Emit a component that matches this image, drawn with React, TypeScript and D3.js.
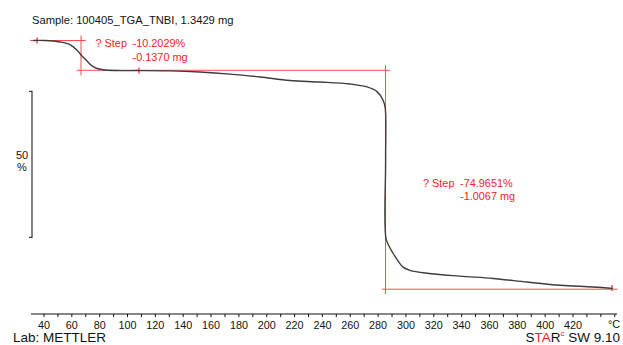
import * as d3 from "d3";
import React, { useRef, useEffect } from "react";

// TGA curve, temperature (°C) vs. mass (%)
const tempC = [32.1, 40.7, 51.5, 58.7, 63.7, 67.3, 70.9, 74.5, 78.1, 83.8, 94.6, 109.0, 130.5, 152.1, 173.6, 195.2, 216.7, 238.3, 259.8, 272.0, 279.2, 283.5, 285.1, 285.4, 285.6, 287.8, 290.7, 294.3, 297.9, 302.9, 315.1, 338.8, 362.5, 386.9, 410.7, 434.4, 448.7];
const massPct = [100.0, 100.0, 99.5, 98.6, 96.7, 94.7, 93.0, 91.3, 90.4, 89.9, 89.7, 89.7, 89.6, 89.2, 88.5, 87.5, 86.3, 85.8, 85.1, 84.1, 82.5, 79.6, 76.9, 59.1, 32.4, 29.6, 27.2, 24.5, 22.4, 21.3, 20.3, 19.3, 18.5, 17.3, 16.2, 15.6, 15.1];

const xTickLabels = [40, 60, 80, 100, 120, 140, 160, 180, 200, 220, 240, 260, 280, 300, 320, 340, 360, 380, 400, 420];
const xMinorTicks = d3.range(40, 451, 10);

// step evaluations
const stepLeft = [63.7, 282.8];
const stepMark = [66.6, 285.3];
const stepRight = [288.5, 452];
const stepTop = [100.0, 89.8];
const stepBottom = [89.8, 14.83];
const stepPercent = ["-10.2029%", "-74.9651%"];
const stepMass = ["-0.1370 mg", "-1.0067 mg"];

const sampleTitle = "Sample: 100405_TGA_TNBI, 1.3429 mg";
const labText = "Lab: METTLER";

const W = 623;
const H = 345;
const RED = "#ff4a4a";
const FONT = "'Liberation Sans', Arial, sans-serif";

function TgaChart() {
  const ref = useRef<SVGSVGElement>(null);

  useEffect(() => {
    const svg = d3.select(ref.current);
    svg.selectAll("*").remove();

    const x = d3.scaleLinear().domain([40, 420]).range([44, 573]);
    const y = d3.scaleLinear().domain([0, 100]).range([332.5, 40.5]);
    const axisY = 314;

    // title
    svg.append("text").attr("x", 32).attr("y", 24)
      .attr("font-size", 11.2).attr("fill", "#111").text(sampleTitle);

    // 50 % scale bar
    const by0 = y(82.6), by1 = y(32.6);
    svg.append("path")
      .attr("d", `M29,${by0}H32V${by1}H29`)
      .attr("fill", "none").attr("stroke", "#333").attr("stroke-width", 1.2);
    svg.append("text").attr("x", 22).attr("y", 159).attr("text-anchor", "middle")
      .attr("font-size", 11).attr("fill", "#111").text("50");
    svg.append("text").attr("x", 22).attr("y", 171).attr("text-anchor", "middle")
      .attr("font-size", 11).attr("fill", "#111").text("%");

    // step construction lines
    const red = svg.append("g").attr("stroke", RED).attr("stroke-width", 1).attr("fill", "none");
    stepLeft.forEach((l, i) => {
      red.append("line").attr("x1", x(l)).attr("x2", x(stepRight[i]))
        .attr("y1", y(stepBottom[i])).attr("y2", y(stepBottom[i]));
      red.append("line").attr("x1", x(stepMark[i])).attr("x2", x(stepMark[i]))
        .attr("y1", y(stepTop[i]) - 5).attr("y2", y(stepBottom[i]) + 5);
    });
    // upper line of first step
    red.append("line").attr("x1", x(30)).attr("x2", x(70))
      .attr("y1", y(stepTop[0])).attr("y2", y(stepTop[0]));
    // small markers
    [[35, 100], [108.2, 89.7], [448, 15.2]].forEach(([t, p]) => {
      red.append("line").attr("x1", x(t)).attr("x2", x(t))
        .attr("y1", y(p) - 3).attr("y2", y(p) + 3).attr("stroke-width", 1.5);
    });

    // curve
    const pts: [number, number][] = tempC.map((t, i) => [t, massPct[i]]);
    const line = d3.line<[number, number]>()
      .x(d => x(d[0])).y(d => y(d[1]))
      .curve(d3.curveCatmullRom.alpha(0.5));
    svg.append("path").attr("d", line(pts))
      .attr("fill", "none").attr("stroke", "#3c3c3c").attr("stroke-width", 1.4);

    // step text
    const textPos = [[95.5, 47], [423, 186.5]];
    textPos.forEach(([tx, ty], i) => {
      const g = svg.append("g").attr("fill", "#ff2020").attr("font-size", 10.9);
      g.append("text").attr("x", tx).attr("y", ty).text("? Step");
      g.append("text").attr("x", tx + 37).attr("y", ty).text(stepPercent[i]);
      g.append("text").attr("x", tx + 37).attr("y", ty + 13.5).text(stepMass[i]);
    });

    // x axis
    svg.append("line").attr("x1", 31).attr("x2", 617)
      .attr("y1", axisY).attr("y2", axisY).attr("stroke", "#111").attr("stroke-width", 1);
    svg.append("g").selectAll("line").data(xMinorTicks).join("line")
      .attr("x1", d => x(d)).attr("x2", d => x(d))
      .attr("y1", axisY).attr("y2", axisY + 3)
      .attr("stroke", "#111").attr("stroke-width", 1);
    svg.append("g").selectAll("text").data(xTickLabels).join("text")
      .attr("x", d => x(d)).attr("y", 329).attr("text-anchor", "middle")
      .attr("font-size", 10.8).attr("fill", "#111").text(d => d);
    svg.append("text").attr("x", 620).attr("y", 328).attr("text-anchor", "end")
      .attr("font-size", 10.8).attr("fill", "#111").text("°C");

    // footer
    svg.append("text").attr("x", 13).attr("y", 342)
      .attr("font-size", 13.5).attr("fill", "#111").text(labText);
    const star = svg.append("text").attr("x", 620).attr("y", 342)
      .attr("text-anchor", "end").attr("font-size", 13.5).attr("fill", "#111");
    star.append("tspan").text("S");
    star.append("tspan").attr("fill", "#ff2020").text("TA");
    star.append("tspan").text("R");
    star.append("tspan").attr("fill", "#ff2020").attr("font-size", 8).attr("dy", -6).text("c");
    star.append("tspan").attr("dy", 6).text(" SW 9.10");
  }, []);

  return (
    <svg ref={ref} width={W} height={H}
      style={{ position: "absolute", left: 0, top: 0, background: "#fff", fontFamily: FONT }} />
  );
}

export default function App() {
  return <TgaChart />;
}
